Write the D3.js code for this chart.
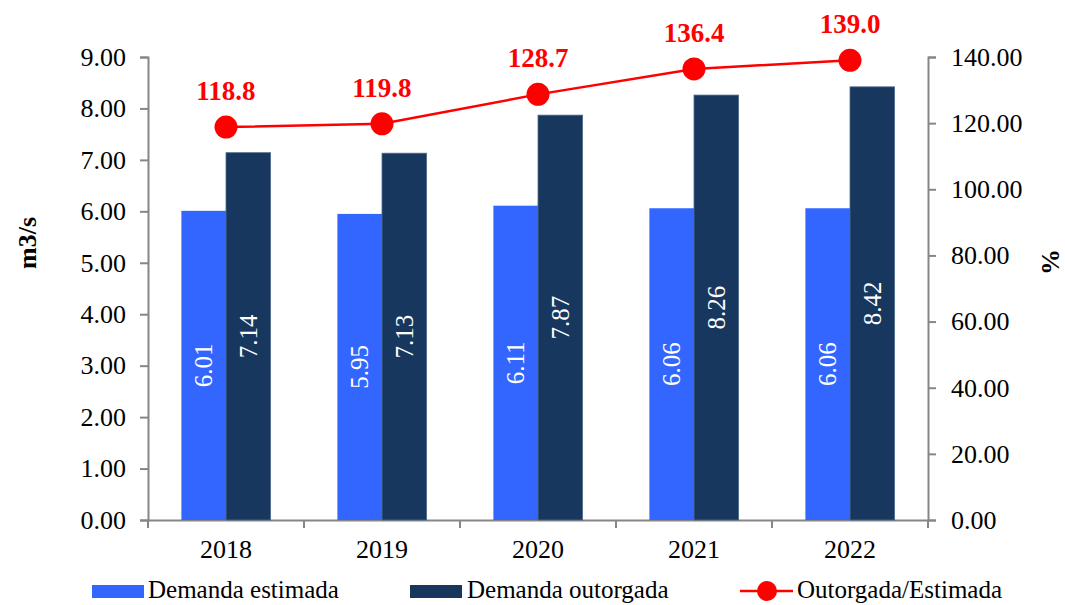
<!DOCTYPE html>
<html>
<head>
<meta charset="utf-8">
<script src="https://cdn.jsdelivr.net/npm/d3@7"></script>
<style>
    body { margin: 0; background: #fff; }
    text { font-family: "Liberation Serif", "Times New Roman", serif; }
</style>
</head>
<body>
<div class="chart"></div>
<script>

// Chart data
var years = ["2018", "2019", "2020", "2021", "2022"];
var estimada = [6.01, 5.95, 6.11, 6.06, 6.06];
var outorgada = [7.14, 7.13, 7.87, 8.26, 8.42];
var ratio = [118.8, 119.8, 128.7, 136.4, 139.0];
var leftTicks = [0, 1, 2, 3, 4, 5, 6, 7, 8, 9];
var rightTicks = [0, 20, 40, 60, 80, 100, 120, 140];

var width = 1065, height = 605;
var margin = { top: 57, right: 137, bottom: 85, left: 148 };
var plotW = width - margin.left - margin.right;
var plotH = height - margin.top - margin.bottom;

var lightBlue = "#3366ff", darkBlue = "#17375e", axisGray = "#868686";

var svg = d3.select(".chart")
    .append("svg")
      .attr("width", width)
      .attr("height", height)
    .append("g")
      .attr("transform", "translate(" + margin.left + "," + margin.top + ")");

// Scales
var x = d3.scaleBand()
    .domain(years)
    .range([0, plotW]);

var y = d3.scaleLinear()
    .domain([0, 9])
    .range([plotH, 0]);

var y2 = d3.scaleLinear()
    .domain([0, 140])
    .range([plotH, 0]);

var barW = x.bandwidth() * 0.286;

// Left axis
var yAxis = d3.axisLeft(y)
    .tickValues(leftTicks)
    .tickFormat(d3.format(".2f"))
    .tickSize(8)
    .tickPadding(14);

var gy = svg.append("g").attr("class", "yAxis").call(yAxis);

// Right axis
var y2Axis = d3.axisRight(y2)
    .tickValues(rightTicks)
    .tickFormat(d3.format(".2f"))
    .tickSize(8)
    .tickPadding(15);

var gy2 = svg.append("g")
    .attr("class", "y2Axis")
    .attr("transform", "translate(" + plotW + ",0)")
    .call(y2Axis);

// Bottom axis
var xAxis = d3.axisBottom(x)
    .tickSize(0)
    .tickPadding(20);

var gx = svg.append("g")
    .attr("class", "xAxis")
    .attr("transform", "translate(0," + plotH + ")")
    .call(xAxis);

// Category dividers on x axis
gx.selectAll(".divider")
    .data(d3.range(years.length + 1))
    .enter().append("line")
      .attr("x1", function(d) { return d * x.step(); })
      .attr("x2", function(d) { return d * x.step(); })
      .attr("y1", 0)
      .attr("y2", 8)
      .attr("stroke", axisGray)
      .attr("stroke-width", 2);

[gy, gy2, gx].forEach(function(g) {
    g.select(".domain").attr("stroke", axisGray).attr("stroke-width", 2);
    g.selectAll(".tick line").attr("stroke", axisGray).attr("stroke-width", 2);
    g.selectAll(".tick text")
        .attr("fill", "#000")
        .style("font-size", "26px")
        .style("font-family", "Liberation Serif, serif");
});

// Bars
svg.selectAll(".barEst")
    .data(estimada)
    .enter().append("rect")
      .attr("class", "barEst")
      .attr("x", function(d, i) { return x(years[i]) + x.bandwidth() / 2 - barW; })
      .attr("y", function(d) { return y(d); })
      .attr("width", barW)
      .attr("height", function(d) { return plotH - y(d); })
      .style("fill", lightBlue);

svg.selectAll(".barOut")
    .data(outorgada)
    .enter().append("rect")
      .attr("class", "barOut")
      .attr("x", function(d, i) { return x(years[i]) + x.bandwidth() / 2; })
      .attr("y", function(d) { return y(d); })
      .attr("width", barW)
      .attr("height", function(d) { return plotH - y(d); })
      .style("fill", darkBlue)
      .style("stroke", "#4f6b8c")
      .style("stroke-width", 0.8);

// Value labels inside bars (rotated)
function barLabels(data, offset, cls) {
    svg.selectAll("." + cls)
        .data(data)
        .enter().append("text")
          .attr("class", cls)
          .attr("transform", function(d, i) {
              var cx = x(years[i]) + x.bandwidth() / 2 + offset;
              var cy = (y(d) + plotH) / 2;
              return "translate(" + cx + "," + cy + ") rotate(-90)";
          })
          .attr("text-anchor", "middle")
          .attr("dy", "0.35em")
          .style("font-size", "25px")
          .style("fill", "#fff")
          .text(function(d) { return d.toFixed(2); });
}
barLabels(estimada, -barW / 2, "lblEst");
barLabels(outorgada, barW / 2, "lblOut");

// Ratio line
var line = d3.line()
    .x(function(d, i) { return x(years[i]) + x.bandwidth() / 2; })
    .y(function(d) { return y2(d); });

svg.append("path")
    .datum(ratio)
    .attr("d", line)
    .attr("fill", "none")
    .attr("stroke", "#ff0000")
    .attr("stroke-width", 2.5);

svg.selectAll(".dot")
    .data(ratio)
    .enter().append("circle")
      .attr("class", "dot")
      .attr("cx", function(d, i) { return x(years[i]) + x.bandwidth() / 2; })
      .attr("cy", function(d) { return y2(d); })
      .attr("r", 11.5)
      .style("fill", "#ff0000");

svg.selectAll(".ratioLbl")
    .data(ratio)
    .enter().append("text")
      .attr("class", "ratioLbl")
      .attr("x", function(d, i) { return x(years[i]) + x.bandwidth() / 2; })
      .attr("y", function(d) { return y2(d) - 27; })
      .attr("text-anchor", "middle")
      .style("font-size", "27px")
      .style("font-weight", "bold")
      .style("fill", "#ff0000")
      .text(function(d) { return d.toFixed(1); });

// Axis titles
svg.append("text")
    .attr("transform", "translate(" + (-margin.left + 36) + ",186) rotate(-90)")
    .attr("text-anchor", "middle")
    .style("font-size", "26px")
    .style("font-weight", "bold")
    .text("m3/s");

svg.append("text")
    .attr("transform", "translate(" + (plotW + 131) + ",205) rotate(-90)")
    .attr("text-anchor", "middle")
    .style("font-size", "26px")
    .style("font-weight", "bold")
    .text("%");

// Legend
var legend = d3.select(".chart svg").append("g").attr("class", "legend");

legend.append("rect")
    .attr("x", 92).attr("y", 585).attr("width", 52).attr("height", 13)
    .style("fill", lightBlue);
legend.append("text")
    .attr("x", 148).attr("y", 598)
    .style("font-size", "25px")
    .text("Demanda estimada");

legend.append("rect")
    .attr("x", 410).attr("y", 585).attr("width", 52).attr("height", 13)
    .style("fill", darkBlue);
legend.append("text")
    .attr("x", 467).attr("y", 598)
    .style("font-size", "25px")
    .text("Demanda outorgada");

legend.append("line")
    .attr("x1", 740).attr("x2", 793).attr("y1", 591).attr("y2", 591)
    .attr("stroke", "#ff0000").attr("stroke-width", 2.5);
legend.append("circle")
    .attr("cx", 767).attr("cy", 591).attr("r", 10)
    .style("fill", "#ff0000");
legend.append("text")
    .attr("x", 797).attr("y", 598)
    .style("font-size", "25px")
    .text("Outorgada/Estimada");

</script>
</body>
</html>
